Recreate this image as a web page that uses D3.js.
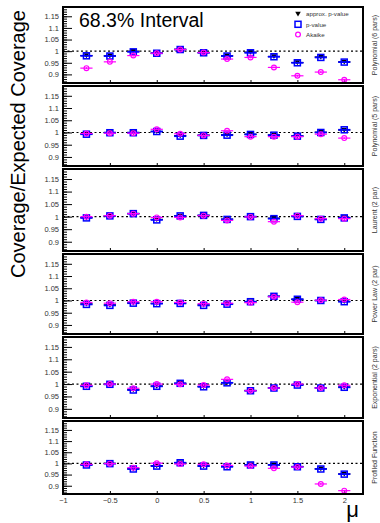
<!DOCTYPE html>
<html>
<head>
<meta charset="utf-8">
<script src="https://cdn.jsdelivr.net/npm/d3@7"></script>
<style>
  html, body { margin: 0; padding: 0; background: #fff; }
  svg { display: block; font-family: "Liberation Sans", Arial, sans-serif; }
</style>
</head>
<body>
<div id="chart"></div>
<script>
// data
const mu = [-0.75, -0.5, -0.25, 0, 0.25, 0.5, 0.75, 1, 1.25, 1.5, 1.75, 2];
const models = ["Polynomial (6 pars)", "Polynomial (5 pars)", "Laurent (2 par)",
                "Power Law (2 par)", "Exponential (2 pars)", "Profiled Function"];
const seriesNames = ["approx. p-value", "p-value", "Akaike"];

const approxPValue = [
  [0.981, 0.980, 1.000, 0.992, 1.008, 0.994, 0.980, 0.996, 0.977, 0.951, 0.975, 0.954],
  [0.994, 1.000, 1.000, 1.004, 0.987, 0.989, 0.991, 0.993, 0.990, 0.986, 1.001, 1.010],
  [0.996, 1.004, 1.012, 0.989, 1.003, 1.005, 0.990, 1.000, 0.994, 1.002, 0.990, 0.997],
  [0.986, 0.982, 0.990, 0.988, 0.989, 0.982, 0.986, 0.995, 1.017, 1.005, 1.000, 0.996],
  [0.992, 1.000, 0.977, 0.992, 1.003, 0.990, 1.006, 0.974, 0.985, 0.997, 0.985, 0.988],
  [0.994, 1.000, 0.976, 0.990, 1.003, 0.989, 0.986, 0.994, 0.994, 0.986, 0.976, 0.953]
];
const pValue = [
  [0.980, 0.979, 0.997, 0.991, 1.007, 0.993, 0.979, 0.993, 0.976, 0.950, 0.973, 0.953],
  [0.993, 0.999, 0.999, 1.004, 0.985, 0.988, 0.989, 0.992, 0.989, 0.985, 1.000, 1.011],
  [0.995, 1.003, 1.012, 0.987, 1.003, 1.005, 0.989, 1.000, 0.992, 1.001, 0.989, 0.995],
  [0.984, 0.980, 0.989, 0.987, 0.988, 0.980, 0.985, 0.995, 1.017, 1.005, 1.000, 0.995],
  [0.991, 0.999, 0.976, 0.991, 1.003, 0.989, 1.005, 0.973, 0.984, 0.996, 0.984, 0.987],
  [0.993, 0.999, 0.975, 0.988, 1.003, 0.988, 0.985, 0.993, 0.993, 0.985, 0.975, 0.952]
];
const akaike = [
  [0.927, 0.954, 0.981, 0.991, 1.007, 0.994, 0.966, 0.973, 0.930, 0.894, 0.910, 0.877],
  [0.996, 0.997, 0.997, 1.013, 0.995, 0.988, 1.007, 0.983, 0.983, 0.983, 0.993, 0.977],
  [1.000, 1.004, 1.012, 0.997, 0.997, 1.004, 0.985, 0.999, 0.980, 1.004, 0.992, 0.992],
  [0.992, 0.989, 0.995, 0.995, 0.992, 0.987, 0.989, 0.991, 1.015, 0.993, 1.001, 1.004],
  [0.995, 1.000, 0.983, 1.000, 0.999, 0.996, 1.019, 0.973, 0.984, 1.000, 0.984, 0.995],
  [0.996, 0.999, 0.981, 1.001, 0.997, 0.996, 0.991, 0.988, 0.978, 0.984, 0.908, 0.878]
];
const muErr = 0.065;
const covErr = 0.004;

const yMajor = [0.9, 0.95, 1, 1.05, 1.1, 1.15];
const yMinor = d3.range(87, 119).map(v => v / 100);
const xTicks = [-1, -0.5, 0, 0.5, 1, 1.5, 2];

// layout
const width = 380, height = 523;
const frameLeft = 63, frameRight = 363;
const panelTop = [7, 86, 169, 254, 337, 421];
const panelBottom = [83, 166, 251, 334, 418, 494];

const svg = d3.select("#chart").append("svg")
  .attr("width", width).attr("height", height);

const x = d3.scaleLinear().domain([-1, 2.2]).range([frameLeft, frameRight]);

const colors = ["#000000", "#0000ff", "#ff00ff"];
const allSeries = [approxPValue, pValue, akaike];

function drawMarker(g, kind, cx, cy) {
  if (kind === 0) {
    g.append("path")
      .attr("d", `M${cx - 2.8},${cy - 2.2}L${cx + 2.8},${cy - 2.2}L${cx},${cy + 2.6}Z`)
      .attr("fill", colors[0]);
  } else if (kind === 1) {
    g.append("rect")
      .attr("x", cx - 3).attr("y", cy - 3).attr("width", 6).attr("height", 6)
      .attr("fill", "none").attr("stroke", colors[1]).attr("stroke-width", 1.5);
  } else {
    g.append("circle")
      .attr("cx", cx).attr("cy", cy).attr("r", 2.4)
      .attr("fill", "none").attr("stroke", colors[2]).attr("stroke-width", 1.2);
  }
}

models.forEach((name, p) => {
  const y = d3.scaleLinear().domain([0.863, 1.19]).range([panelBottom[p], panelTop[p]]);
  const g = svg.append("g");

  // y axis: ticks pointing into the frame
  const yMinorAxis = g.append("g").attr("transform", `translate(${frameLeft},0)`)
    .call(d3.axisLeft(y).tickValues(yMinor).tickSize(-4).tickFormat(""));
  const yMajorAxis = g.append("g").attr("transform", `translate(${frameLeft},0)`)
    .call(d3.axisLeft(y).tickValues(yMajor).tickSize(-9).tickPadding(4).tickFormat(d3.format("~g")));
  [yMinorAxis, yMajorAxis].forEach(a => {
    a.select(".domain").remove();
    a.selectAll("line").attr("stroke", "#000").attr("stroke-width", 1);
    a.selectAll("text").attr("font-size", 7.5).attr("fill", "#333")
      .attr("font-family", "'Liberation Sans', Arial, sans-serif");
  });

  // x axis ticks
  const xAxis = g.append("g").attr("transform", `translate(0,${panelBottom[p]})`)
    .call(d3.axisBottom(x).tickValues(xTicks).tickSize(-3).tickPadding(3.5)
      .tickFormat(p === models.length - 1 ? d3.format("~g") : ""));
  xAxis.select(".domain").remove();
  xAxis.selectAll("line").attr("stroke", "#000");
  xAxis.selectAll("text").attr("font-size", 7.5).attr("fill", "#333")
    .attr("font-family", "'Liberation Sans', Arial, sans-serif");

  // reference line at 1
  g.append("line")
    .attr("x1", frameLeft).attr("x2", frameRight)
    .attr("y1", y(1)).attr("y2", y(1))
    .attr("stroke", "#000").attr("stroke-width", 1.2)
    .attr("stroke-dasharray", "2,2.5");

  // points with error bars
  allSeries.forEach((series, s) => {
    const sg = g.append("g");
    series[p].forEach((v, i) => {
      sg.append("line")
        .attr("x1", x(mu[i] - muErr)).attr("x2", x(mu[i] + muErr))
        .attr("y1", y(v)).attr("y2", y(v))
        .attr("stroke", colors[s]).attr("stroke-width", s === 1 ? 1.8 : 1.2);
      sg.append("line")
        .attr("x1", x(mu[i])).attr("x2", x(mu[i]))
        .attr("y1", y(v - covErr)).attr("y2", y(v + covErr))
        .attr("stroke", colors[s]).attr("stroke-width", 1.2);
      drawMarker(sg, s, x(mu[i]), y(v));
    });
  });

  // frame
  g.append("rect")
    .attr("x", frameLeft).attr("y", panelTop[p])
    .attr("width", frameRight - frameLeft).attr("height", panelBottom[p] - panelTop[p])
    .attr("fill", "none").attr("stroke", "#000").attr("stroke-width", 2);

  // model label on the right
  g.append("text")
    .attr("transform", `translate(377,${(panelTop[p] + panelBottom[p]) / 2}) rotate(-90)`)
    .attr("text-anchor", "middle")
    .attr("font-size", 7).attr("fill", "#333")
    .text(name);
});

// legend in the first panel
const legend = svg.append("g");
seriesNames.forEach((name, s) => {
  const ly = 14 + s * 10.3;
  drawMarker(legend, s, 298, ly);
  legend.append("text")
    .attr("x", 306).attr("y", ly + 2.2)
    .attr("font-size", 6.2).attr("fill", "#333")
    .text(name);
});

// titles
svg.append("text")
  .attr("x", 79).attr("y", 26.5)
  .attr("font-size", 19.5)
  .text("68.3% Interval");

svg.append("text")
  .attr("transform", "translate(25,278) rotate(-90)")
  .attr("font-size", 20)
  .text("Coverage/Expected Coverage");

svg.append("text")
  .attr("x", 352.5).attr("y", 517)
  .attr("text-anchor", "middle")
  .attr("font-size", 22)
  .text("μ");
</script>
</body>
</html>
